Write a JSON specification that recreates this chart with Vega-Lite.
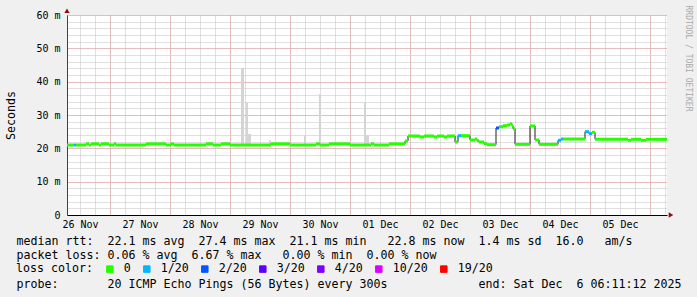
{
  "$schema": "https://vega.github.io/schema/vega-lite/v6.json",
  "width": 600,
  "height": 200,
  "autosize": {"type": "none"},
  "padding": {"left": 67, "top": 15, "right": 30, "bottom": 82},
  "background": "#f0f0f0",
  "config": {
    "view": {"fill": "white", "stroke": null},
    "axis": {
      "labelFont": "DejaVu Sans Mono", "labelFontSize": 10, "labelColor": "#000000",
      "titleFont": "DejaVu Sans Mono", "titleFontSize": 11.63, "titleFontWeight": "normal", "titleColor": "#000000",
      "ticks": false, "domain": false, "gridDash": [1, 1], "gridCap": "butt", "gridOpacity": 1, "gridWidth": 1
    }
  },
  "datasets": {
    "median": [
      {"t0": "2025-11-26T06:48:00Z", "t1": "2025-11-26T09:36:00Z", "ms": 21.0, "loss": "0"},
      {"t0": "2025-11-26T09:36:00Z", "t1": "2025-11-26T10:24:00Z", "ms": 21.0, "loss": "1/20"},
      {"t0": "2025-11-26T10:24:00Z", "t1": "2025-11-26T14:24:00Z", "ms": 21.0, "loss": "0"},
      {"t0": "2025-11-26T14:24:00Z", "t1": "2025-11-26T15:36:00Z", "ms": 21.35, "loss": "0"},
      {"t0": "2025-11-26T15:36:00Z", "t1": "2025-11-26T16:24:00Z", "ms": 21.0, "loss": "0"},
      {"t0": "2025-11-26T16:24:00Z", "t1": "2025-11-26T19:36:00Z", "ms": 21.35, "loss": "0"},
      {"t0": "2025-11-26T19:36:00Z", "t1": "2025-11-26T20:24:00Z", "ms": 21.0, "loss": "0"},
      {"t0": "2025-11-26T20:24:00Z", "t1": "2025-11-26T23:36:00Z", "ms": 21.35, "loss": "0"},
      {"t0": "2025-11-26T23:36:00Z", "t1": "2025-11-27T01:36:00Z", "ms": 21.0, "loss": "0"},
      {"t0": "2025-11-27T01:36:00Z", "t1": "2025-11-27T02:24:00Z", "ms": 21.35, "loss": "0"},
      {"t0": "2025-11-27T02:24:00Z", "t1": "2025-11-27T14:24:00Z", "ms": 21.0, "loss": "0"},
      {"t0": "2025-11-27T14:24:00Z", "t1": "2025-11-27T22:24:00Z", "ms": 21.35, "loss": "0"},
      {"t0": "2025-11-27T22:24:00Z", "t1": "2025-11-28T00:24:00Z", "ms": 21.0, "loss": "0"},
      {"t0": "2025-11-28T00:24:00Z", "t1": "2025-11-28T01:36:00Z", "ms": 21.35, "loss": "0"},
      {"t0": "2025-11-28T01:36:00Z", "t1": "2025-11-28T14:24:00Z", "ms": 21.0, "loss": "0"},
      {"t0": "2025-11-28T14:24:00Z", "t1": "2025-11-28T17:12:00Z", "ms": 21.35, "loss": "0"},
      {"t0": "2025-11-28T17:12:00Z", "t1": "2025-11-28T20:24:00Z", "ms": 21.0, "loss": "0"},
      {"t0": "2025-11-28T20:24:00Z", "t1": "2025-11-29T00:00:00Z", "ms": 21.35, "loss": "0"},
      {"t0": "2025-11-29T00:00:00Z", "t1": "2025-11-29T16:24:00Z", "ms": 21.0, "loss": "0"},
      {"t0": "2025-11-29T16:24:00Z", "t1": "2025-11-30T00:00:00Z", "ms": 21.35, "loss": "0"},
      {"t0": "2025-11-30T00:00:00Z", "t1": "2025-11-30T10:24:00Z", "ms": 21.0, "loss": "0"},
      {"t0": "2025-11-30T10:24:00Z", "t1": "2025-11-30T12:00:00Z", "ms": 21.35, "loss": "0"},
      {"t0": "2025-11-30T12:00:00Z", "t1": "2025-11-30T15:36:00Z", "ms": 21.0, "loss": "0"},
      {"t0": "2025-11-30T15:36:00Z", "t1": "2025-12-01T00:00:00Z", "ms": 21.35, "loss": "0"},
      {"t0": "2025-12-01T00:00:00Z", "t1": "2025-12-01T08:24:00Z", "ms": 21.0, "loss": "0"},
      {"t0": "2025-12-01T08:24:00Z", "t1": "2025-12-01T09:36:00Z", "ms": 21.35, "loss": "0"},
      {"t0": "2025-12-01T09:36:00Z", "t1": "2025-12-01T15:36:00Z", "ms": 21.0, "loss": "0"},
      {"t0": "2025-12-01T15:36:00Z", "t1": "2025-12-01T22:00:00Z", "ms": 21.35, "loss": "0"},
      {"t0": "2025-12-01T22:00:00Z", "t1": "2025-12-01T23:12:00Z", "ms": 22.2, "loss": "0"},
      {"t0": "2025-12-01T23:12:00Z", "t1": "2025-12-02T04:00:00Z", "ms": 23.7, "loss": "0"},
      {"t0": "2025-12-02T04:00:00Z", "t1": "2025-12-02T05:36:00Z", "ms": 23.4, "loss": "0"},
      {"t0": "2025-12-02T05:36:00Z", "t1": "2025-12-02T09:36:00Z", "ms": 23.7, "loss": "0"},
      {"t0": "2025-12-02T09:36:00Z", "t1": "2025-12-02T10:48:00Z", "ms": 23.4, "loss": "0"},
      {"t0": "2025-12-02T10:48:00Z", "t1": "2025-12-02T13:36:00Z", "ms": 23.7, "loss": "0"},
      {"t0": "2025-12-02T13:36:00Z", "t1": "2025-12-02T14:48:00Z", "ms": 23.4, "loss": "0"},
      {"t0": "2025-12-02T14:48:00Z", "t1": "2025-12-02T18:00:00Z", "ms": 23.7, "loss": "0"},
      {"t0": "2025-12-02T18:00:00Z", "t1": "2025-12-02T19:12:00Z", "ms": 21.9, "loss": "0"},
      {"t0": "2025-12-02T19:12:00Z", "t1": "2025-12-02T20:24:00Z", "ms": 23.8, "loss": "1/20"},
      {"t0": "2025-12-02T20:24:00Z", "t1": "2025-12-03T00:00:00Z", "ms": 23.8, "loss": "0"},
      {"t0": "2025-12-03T00:00:00Z", "t1": "2025-12-03T02:00:00Z", "ms": 22.5, "loss": "0"},
      {"t0": "2025-12-03T02:00:00Z", "t1": "2025-12-03T02:48:00Z", "ms": 22.8, "loss": "0"},
      {"t0": "2025-12-03T02:48:00Z", "t1": "2025-12-03T03:36:00Z", "ms": 22.3, "loss": "0"},
      {"t0": "2025-12-03T03:36:00Z", "t1": "2025-12-03T05:36:00Z", "ms": 21.9, "loss": "0"},
      {"t0": "2025-12-03T05:36:00Z", "t1": "2025-12-03T06:48:00Z", "ms": 21.4, "loss": "0"},
      {"t0": "2025-12-03T06:48:00Z", "t1": "2025-12-03T10:24:00Z", "ms": 21.1, "loss": "0"},
      {"t0": "2025-12-03T10:24:00Z", "t1": "2025-12-03T11:36:00Z", "ms": 26.1, "loss": "2/20"},
      {"t0": "2025-12-03T11:36:00Z", "t1": "2025-12-03T13:12:00Z", "ms": 26.5, "loss": "0"},
      {"t0": "2025-12-03T13:12:00Z", "t1": "2025-12-03T14:48:00Z", "ms": 26.8, "loss": "0"},
      {"t0": "2025-12-03T14:48:00Z", "t1": "2025-12-03T16:00:00Z", "ms": 27.0, "loss": "0"},
      {"t0": "2025-12-03T16:00:00Z", "t1": "2025-12-03T16:48:00Z", "ms": 27.4, "loss": "0"},
      {"t0": "2025-12-03T16:48:00Z", "t1": "2025-12-03T17:12:00Z", "ms": 26.8, "loss": "0"},
      {"t0": "2025-12-03T17:12:00Z", "t1": "2025-12-03T18:00:00Z", "ms": 25.9, "loss": "0"},
      {"t0": "2025-12-03T18:00:00Z", "t1": "2025-12-04T00:00:00Z", "ms": 21.2, "loss": "0"},
      {"t0": "2025-12-04T00:00:00Z", "t1": "2025-12-04T02:00:00Z", "ms": 26.7, "loss": "0"},
      {"t0": "2025-12-04T02:00:00Z", "t1": "2025-12-04T03:36:00Z", "ms": 22.5, "loss": "0"},
      {"t0": "2025-12-04T03:36:00Z", "t1": "2025-12-04T11:12:00Z", "ms": 21.2, "loss": "0"},
      {"t0": "2025-12-04T11:12:00Z", "t1": "2025-12-04T12:24:00Z", "ms": 22.4, "loss": "1/20"},
      {"t0": "2025-12-04T12:24:00Z", "t1": "2025-12-04T13:12:00Z", "ms": 22.8, "loss": "1/20"},
      {"t0": "2025-12-04T13:12:00Z", "t1": "2025-12-04T22:00:00Z", "ms": 22.8, "loss": "0"},
      {"t0": "2025-12-04T22:00:00Z", "t1": "2025-12-04T23:36:00Z", "ms": 25.0, "loss": "1/20"},
      {"t0": "2025-12-04T23:36:00Z", "t1": "2025-12-05T00:48:00Z", "ms": 24.4, "loss": "1/20"},
      {"t0": "2025-12-05T00:48:00Z", "t1": "2025-12-05T02:00:00Z", "ms": 24.8, "loss": "0"},
      {"t0": "2025-12-05T02:00:00Z", "t1": "2025-12-05T15:12:00Z", "ms": 22.7, "loss": "0"},
      {"t0": "2025-12-05T15:12:00Z", "t1": "2025-12-05T16:24:00Z", "ms": 22.4, "loss": "0"},
      {"t0": "2025-12-05T16:24:00Z", "t1": "2025-12-05T20:24:00Z", "ms": 22.7, "loss": "0"},
      {"t0": "2025-12-05T20:24:00Z", "t1": "2025-12-05T22:24:00Z", "ms": 22.4, "loss": "0"},
      {"t0": "2025-12-05T22:24:00Z", "t1": "2025-12-06T06:48:00Z", "ms": 22.7, "loss": "0"}
    ],
    "smoke": [
      {"t0": "2025-11-28T15:12:00Z", "t1": "2025-11-28T16:00:00Z", "lo": 20.8, "hi": 22.0},
      {"t0": "2025-11-29T04:24:00Z", "t1": "2025-11-29T05:36:00Z", "lo": 20.8, "hi": 44.1},
      {"t0": "2025-11-29T06:24:00Z", "t1": "2025-11-29T07:12:00Z", "lo": 20.8, "hi": 33.8},
      {"t0": "2025-11-29T07:12:00Z", "t1": "2025-11-29T08:24:00Z", "lo": 20.8, "hi": 24.3},
      {"t0": "2025-11-29T15:36:00Z", "t1": "2025-11-29T16:24:00Z", "lo": 20.8, "hi": 22.4},
      {"t0": "2025-11-30T05:36:00Z", "t1": "2025-11-30T06:24:00Z", "lo": 20.8, "hi": 24.0},
      {"t0": "2025-11-30T11:36:00Z", "t1": "2025-11-30T12:24:00Z", "lo": 20.8, "hi": 36.3},
      {"t0": "2025-12-01T05:36:00Z", "t1": "2025-12-01T06:24:00Z", "lo": 20.8, "hi": 33.6},
      {"t0": "2025-12-01T06:24:00Z", "t1": "2025-12-01T07:36:00Z", "lo": 20.8, "hi": 24.0}
    ],
    "arrows": [
      {"t": "2025-11-26T06:48:00Z", "ms": 61.3, "dir": "up"},
      {"t": "2025-12-06T08:24:00Z", "ms": 0, "dir": "right"}
    ]
  },
  "layer": [
    {
      "data": {"name": "smoke"},
      "mark": {"type": "rect", "color": "#d4d4d4"},
      "encoding": {
        "x": {
          "field": "t0", "type": "temporal",
          "scale": {"type": "utc", "domain": [1764139680000, 1765003680000]},
          "axis": {
            "orient": "bottom", "grid": true, "gridColor": "#c0c0c0", "gridDash": [1, 1], "gridCap": "butt", "labels": false,
            "values": [1764158400000, 1764180000000, 1764201600000, 1764223200000, 1764244800000, 1764266400000, 1764288000000, 1764309600000, 1764331200000, 1764352800000, 1764374400000, 1764396000000, 1764417600000, 1764439200000, 1764460800000, 1764482400000, 1764504000000, 1764525600000, 1764547200000, 1764568800000, 1764590400000, 1764612000000, 1764633600000, 1764655200000, 1764676800000, 1764698400000, 1764720000000, 1764741600000, 1764763200000, 1764784800000, 1764806400000, 1764828000000, 1764849600000, 1764871200000, 1764892800000, 1764914400000, 1764936000000, 1764957600000, 1764979200000, 1765000800000],
            "title": ["median\u00a0rtt:\u00a0\u00a022.1\u00a0ms\u00a0avg\u00a0\u00a027.4\u00a0ms\u00a0max\u00a0\u00a021.1\u00a0ms\u00a0min\u00a0\u00a0\u00a022.8\u00a0ms\u00a0now\u00a0\u00a01.4\u00a0ms\u00a0sd\u00a0\u00a016.0\u00a0\u00a0\u00a0am/s", "packet\u00a0loss:\u00a00.06\u00a0%\u00a0avg\u00a0\u00a06.67\u00a0%\u00a0max\u00a0\u00a0\u00a00.00\u00a0%\u00a0min\u00a0\u00a00.00\u00a0%\u00a0now"],
            "titleX": -51, "titleY": 20.6, "titleAlign": "left", "titleBaseline": "top", "titleLineHeight": 14.3
          }
        },
        "x2": {"field": "t1"},
        "y": {
          "field": "lo", "type": "quantitative",
          "scale": {"domain": [0, 60], "nice": false},
          "axis": {"orient": "left", "grid": true, "gridColor": "#c0c0c0", "gridDash": [1, 1], "gridCap": "butt", "labels": false, "values": [0, 2, 4, 6, 8, 10, 12, 14, 16, 18, 20, 22, 24, 26, 28, 30, 32, 34, 36, 38, 40, 42, 44, 46, 48, 50, 52, 54, 56, 58, 60], "title": null}
        },
        "y2": {"field": "hi"}
      }
    },
    {
      "data": {"name": "median"},
      "mark": {"type": "line", "interpolate": "step-after", "color": "#202020", "strokeWidth": 1},
      "encoding": {
        "x": {
          "field": "t0", "type": "temporal",
          "scale": {"type": "utc", "domain": [1764139680000, 1765003680000]},
          "axis": {
            "orient": "bottom", "grid": true, "gridColor": "#eb9a9a", "gridDash": [1, 1], "gridCap": "butt", "labels": false,
            "values": [1764201600000, 1764288000000, 1764374400000, 1764460800000, 1764547200000, 1764633600000, 1764720000000, 1764806400000, 1764892800000, 1764979200000],
            "title": "probe:\u00a0\u00a0\u00a0\u00a0\u00a0\u00a0\u00a020\u00a0ICMP\u00a0Echo\u00a0Pings\u00a0(56\u00a0Bytes)\u00a0every\u00a0300s\u00a0\u00a0\u00a0\u00a0\u00a0\u00a0\u00a0\u00a0\u00a0\u00a0\u00a0\u00a0\u00a0end:\u00a0Sat\u00a0Dec\u00a0\u00a06\u00a006:11:12\u00a02025",
            "titleX": -51, "titleY": 63.2, "titleAlign": "left", "titleBaseline": "top"
          }
        },
        "y": {
          "field": "ms", "type": "quantitative",
          "scale": {"domain": [0, 60], "nice": false},
          "axis": {
            "orient": "left", "grid": true, "gridColor": "#eb9a9a", "gridDash": [1, 1], "gridCap": "butt",
            "values": [0, 10, 20, 30, 40, 50, 60],
            "labelExpr": "datum.value == 0 ? '0' : datum.value + ' m'",
            "labelPadding": 7, "domain": true, "domainColor": "#404040",
            "title": "Seconds", "titleX": -56, "titleY": 100, "titleAngle": -90, "titleAlign": "center", "titleBaseline": "middle"
          }
        }
      }
    },
    {
      "data": {"name": "median"},
      "mark": {"type": "rule", "strokeWidth": 3},
      "encoding": {
        "x": {
          "field": "t0", "type": "temporal",
          "scale": {"type": "utc", "domain": [1764139680000, 1765003680000]},
          "axis": {
            "orient": "bottom", "grid": false, "domain": true, "domainColor": "#000000",
            "values": [1764158400000, 1764244800000, 1764331200000, 1764417600000, 1764504000000, 1764590400000, 1764676800000, 1764763200000, 1764849600000, 1764936000000],
            "labelExpr": "utcFormat(datum.value, '%d %b')",
            "labelPadding": 4, "title": null
          }
        },
        "x2": {"field": "t1"},
        "y": {
          "field": "ms", "type": "quantitative",
          "scale": {"domain": [0, 60], "nice": false},
          "axis": {
            "orient": "right", "grid": false, "labels": false,
            "title": "RRDTOOL / TOBI OETIKER", "titleFontSize": 8, "titleColor": "#aaaaaa",
            "titleAngle": 90, "titleX": 20, "titleY": -10, "titleAlign": "left", "titleBaseline": "middle"
          }
        },
        "color": {
          "field": "loss", "type": "nominal",
          "scale": {"domain": ["0", "1/20", "2/20", "3/20", "4/20", "10/20", "19/20"], "range": ["#26ff00", "#00b8ff", "#0059ff", "#5e00ff", "#7e00ff", "#dd00ff", "#ff0000"]},
          "legend": {
            "orient": "none", "legendX": -51, "legendY": 248, "direction": "horizontal",
            "title": "loss color:", "titleOrient": "left", "titleFont": "DejaVu Sans Mono", "titleFontSize": 11.63, "titleFontWeight": "normal", "titleColor": "#000000", "titlePadding": 11,
            "symbolType": "square", "symbolSize": 42, "symbolStrokeWidth": 1, "symbolStrokeColor": "#000000",
            "labelFont": "DejaVu Sans Mono", "labelFontSize": 11.63, "labelColor": "#000000", "labelOffset": 8, "columnPadding": 10, "padding": 0,
            "encode": {"symbols": {"update": {"fill": {"scale": "color", "field": "value"}, "fillOpacity": {"value": 1}, "stroke": {"value": "#000000"}, "strokeWidth": {"value": 1}}}}
          }
        }
      }
    },
    {
      "data": {"name": "arrows"},
      "mark": {"type": "point", "filled": true, "color": "#901010", "size": 28, "opacity": 1},
      "encoding": {
        "x": {
          "field": "t", "type": "temporal",
          "scale": {"type": "utc", "domain": [1764139680000, 1765003680000]},
          "axis": {"orient": "bottom", "grid": false, "labels": false, "domain": false, "ticks": false, "title": null, "values": []}
        },
        "y": {
          "field": "ms", "type": "quantitative",
          "scale": {"domain": [0, 60], "nice": false},
          "axis": {"orient": "left", "grid": false, "labels": false, "domain": false, "ticks": false, "title": null, "values": []}
        },
        "shape": {
          "field": "dir", "type": "nominal",
          "scale": {"domain": ["up", "right"], "range": ["triangle-up", "triangle-right"]},
          "legend": null
        }
      }
    }
  ],
  "resolve": {"axis": {"x": "independent", "y": "independent"}}
}
